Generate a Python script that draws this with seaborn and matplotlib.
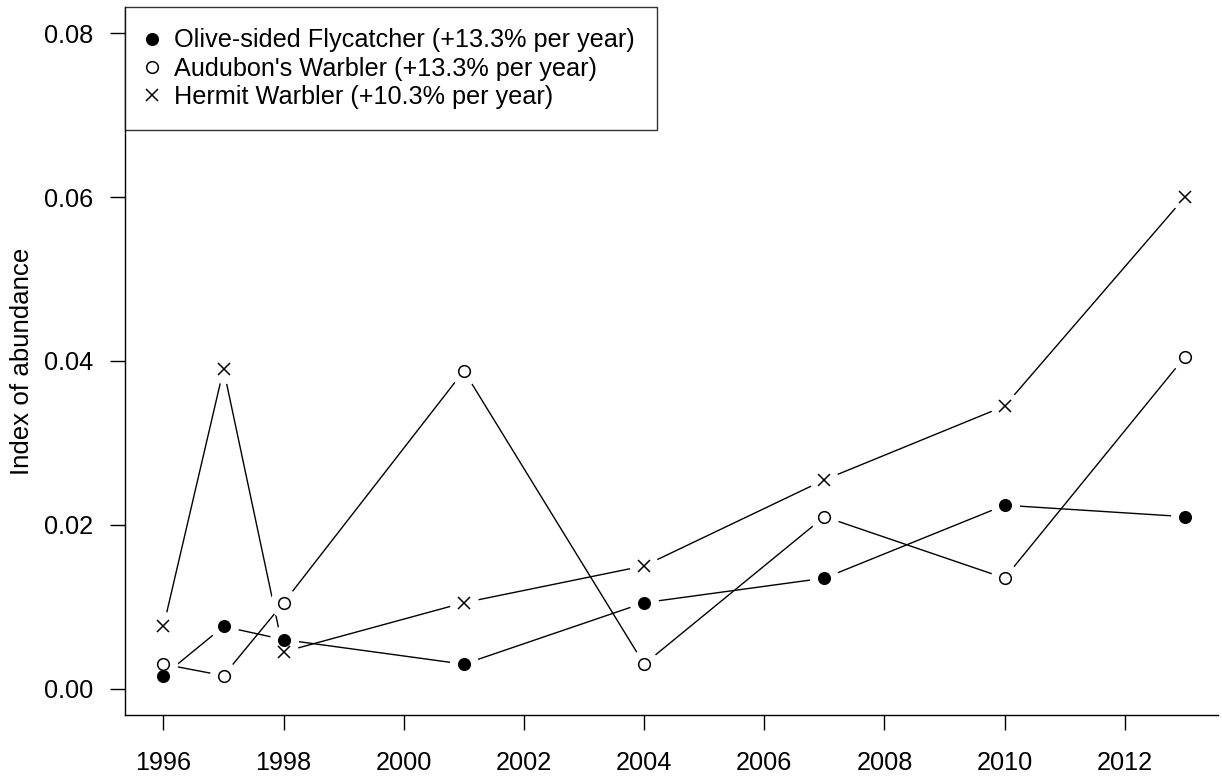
import pandas as pd
import numpy as np
import seaborn as sns
import matplotlib.pyplot as plt
from matplotlib.lines import Line2D

# ------------------------ Data ------------------------
years = [1996, 1997, 1998, 2001, 2004, 2007, 2010, 2013]
olive_sided = [0.0016, 0.0076, 0.0060, 0.0030, 0.0105, 0.0135, 0.0224, 0.0210]
audubons = [0.0030, 0.0016, 0.0105, 0.0388, 0.0030, 0.0210, 0.0135, 0.0405]
hermit = [0.0076, 0.0390, 0.0045, 0.0105, 0.0150, 0.0255, 0.0345, 0.0600]

species = ["Olive-sided Flycatcher (+13.3% per year)",
           "Audubon's Warbler (+13.3% per year)",
           "Hermit Warbler (+10.3% per year)"]
x_ticks = [1996, 1998, 2000, 2002, 2004, 2006, 2008, 2010, 2012]
y_ticks = [0.00, 0.02, 0.04, 0.06, 0.08]

df = pd.DataFrame({
    'year': years * 3,
    'abundance': olive_sided + audubons + hermit,
    'species': [s for s in species for _ in years],
})

# ------------------------ Styling ------------------------
sns.set_theme(style='ticks')
plt.rcParams['font.family'] = ['Liberation Sans', 'DejaVu Sans']
plt.rcParams.update({
    'axes.linewidth': 1.0,
    'axes.edgecolor': 'black',
    'axes.labelcolor': 'black',
    'text.color': 'black',
    'xtick.major.size': 10.8,
    'ytick.major.size': 10.8,
    'xtick.major.width': 1.0,
    'ytick.major.width': 1.0,
})
FS = 18.2

fig = plt.figure(figsize=(12.22, 7.78), dpi=100)
ax = fig.add_axes([0.1023, 0.081, 0.8944, 0.910])

markers = {species[0]: dict(marker='o', mfc='black', mec='black', ms=8.4, mew=1.0),
           species[1]: dict(marker='o', mfc='white', mec='black', ms=8.4, mew=1.1),
           species[2]: dict(marker='x', mfc='none', mec='black', ms=9.0, mew=1.1)}

# lines with a small white gap around each point (R type="b")
for sp in species:
    sub = df[df['species'] == sp]
    sns.lineplot(data=sub, x='year', y='abundance', color='black', lw=1.0, ax=ax,
                 legend=False, zorder=2)
    ax.plot(sub['year'], sub['abundance'], ls='none', marker='o', ms=20,
            mfc='white', mec='white', zorder=3)

for sp in species:
    sub = df[df['species'] == sp]
    ax.plot(sub['year'], sub['abundance'], ls='none', zorder=4, **markers[sp])

ax.set_xlim(1995.36, 2013.55)
ax.set_ylim(-0.0032, 0.0832)
ax.set_xticks(x_ticks)
ax.set_xticklabels([str(t) for t in x_ticks])
ax.set_yticks(y_ticks)
ax.set_yticklabels([f'{t:.2f}' for t in y_ticks])
ax.tick_params(axis='x', labelsize=FS, pad=15, colors='black')
ax.tick_params(axis='y', labelsize=FS, pad=12, colors='black')
ax.set_xlabel('')
ax.set_ylabel('Index of abundance', fontsize=FS + 0.4, labelpad=7)
sns.despine(ax=ax)

handles = [Line2D([], [], ls='none', **markers[sp]) for sp in species]
leg = ax.legend(handles, species, loc='upper left', bbox_to_anchor=(0, 1.0),
                fontsize=FS, frameon=True, fancybox=False, borderaxespad=0,
                handletextpad=0.7, handlelength=0.4, labelspacing=0.16,
                borderpad=0.85)
leg.get_frame().set_edgecolor('black')
leg.get_frame().set_linewidth(1.0)

plt.savefig('out.png', dpi=100)
